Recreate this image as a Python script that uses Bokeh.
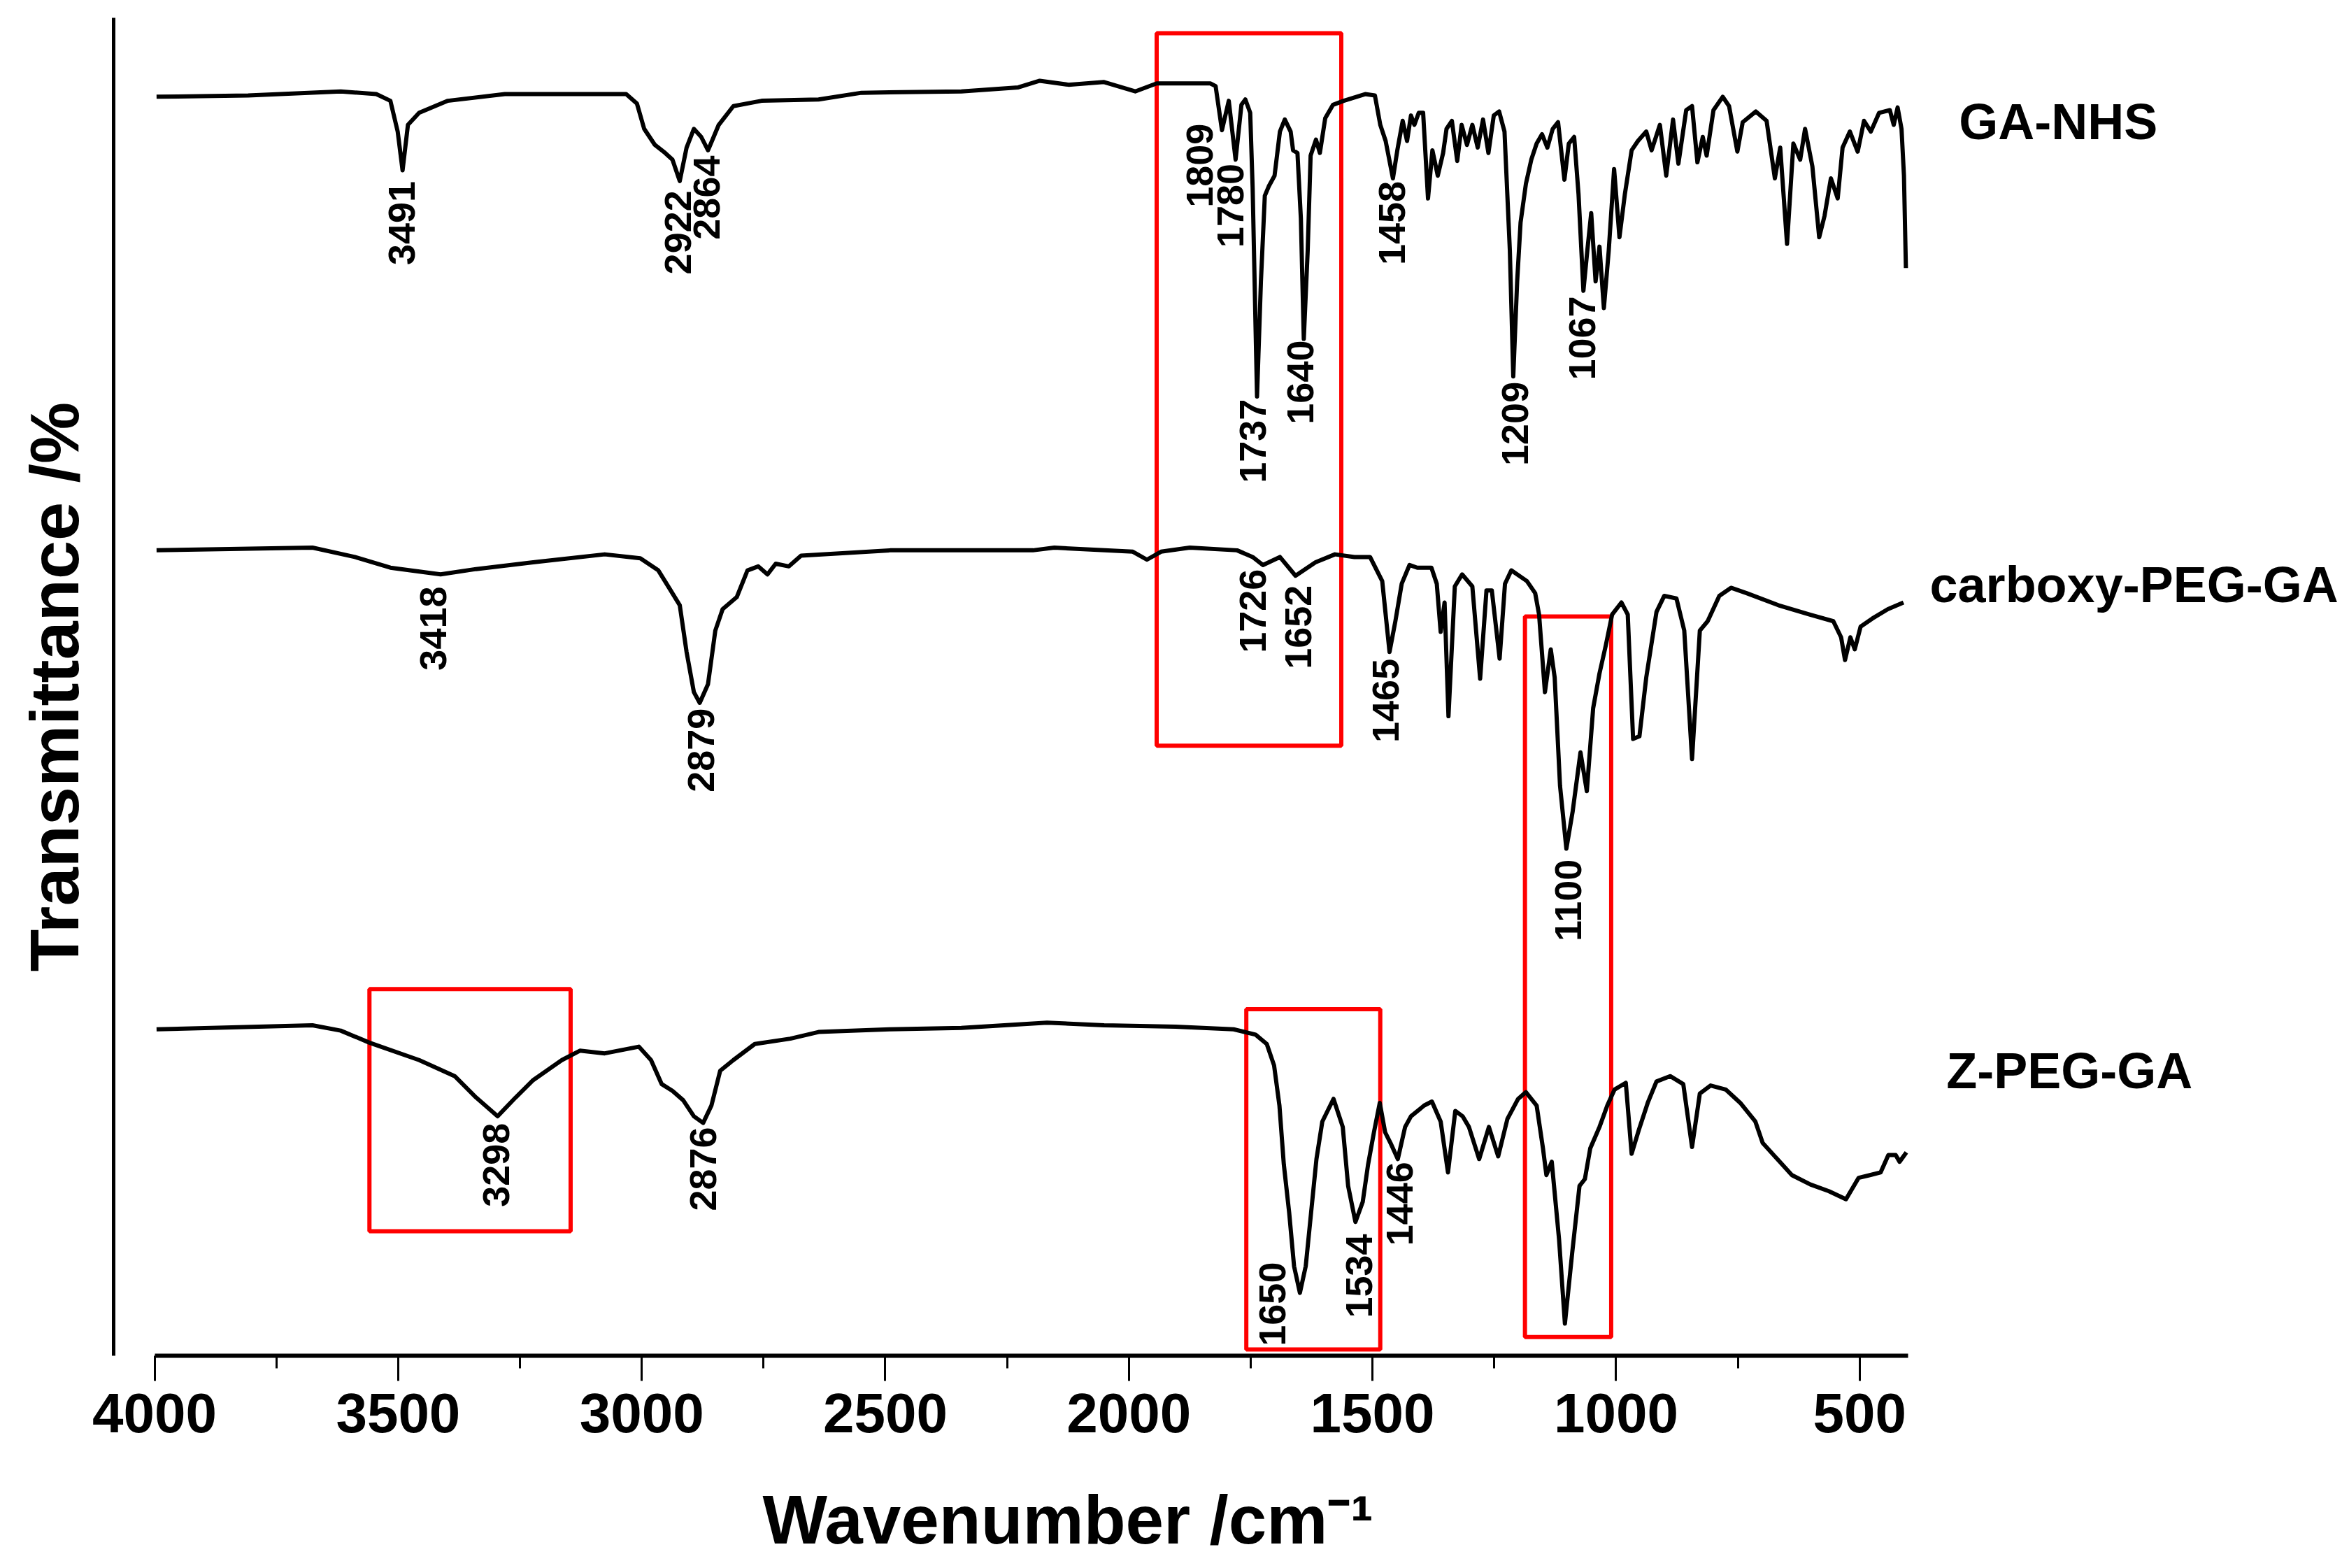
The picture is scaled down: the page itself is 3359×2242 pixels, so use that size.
import numpy as np
from bokeh.plotting import figure
from bokeh.models import Range1d, FixedTicker, Title
from bokeh.core.properties import value
from bokeh.embed import file_html
from bokeh.resources import INLINE

# ---------------- data (wavenumber cm-1, offset transmittance a.u.) ----------------
ga_nhs_wn = [3996, 3808, 3618, 3545, 3516, 3501, 3491, 3480, 3457, 3398, 3281, 3076, 3032, 3010,
             2995, 2973, 2952, 2937, 2922, 2908, 2893, 2878, 2864, 2842, 2812, 2754, 2637, 2549,
             2344, 2227, 2183, 2124, 2051, 1987, 1943, 1833, 1822, 1809, 1795, 1781, 1769, 1761,
             1751, 1746, 1737, 1729, 1721, 1713, 1701, 1690, 1680, 1668, 1663, 1654, 1647, 1641,
             1633, 1627, 1616, 1608, 1597, 1581, 1559, 1515, 1495, 1484, 1473, 1458, 1449, 1438,
             1429, 1421, 1414, 1405, 1396, 1386, 1377, 1366, 1355, 1348, 1337, 1326, 1317, 1306,
             1295, 1284, 1273, 1262, 1251, 1240, 1229, 1218, 1211, 1203, 1196, 1185, 1174, 1163,
             1152, 1141, 1130, 1119, 1106, 1097, 1086, 1077, 1067, 1059, 1051, 1042, 1034, 1025,
             1015, 1004, 993, 982, 968, 955, 938, 927, 910, 897, 883, 872, 856, 844, 833, 822,
             814, 800, 781, 768, 751, 740, 713, 691, 674, 663, 649, 636, 622, 612, 597, 583, 572,
             559, 545, 535, 520, 504, 491, 477, 460, 438, 430, 422, 414, 409, 405]
ga_nhs_t = [94.1, 94.2, 94.5, 94.3, 93.8, 91.5, 88.6, 92.0, 92.9, 93.8, 94.3, 94.3, 94.3, 93.6,
            91.7, 90.5, 89.9, 89.4, 87.8, 90.3, 91.7, 91.1, 90.1, 92.0, 93.4, 93.8, 93.9, 94.4,
            94.5, 94.8, 95.3, 95.0, 95.2, 94.5, 95.1, 95.1, 94.9, 91.6, 93.8, 89.4, 93.5, 93.9,
            92.9, 87.3, 71.7, 80.3, 86.7, 87.4, 88.2, 91.5, 92.4, 91.5, 90.1, 89.9, 85.0, 76.0,
            82.6, 89.7, 90.9, 89.9, 92.5, 93.5, 93.8, 94.3, 94.2, 92.0, 90.8, 88.0, 90.1, 92.3,
            90.8, 92.7, 92.0, 92.9, 92.9, 86.5, 90.1, 88.2, 89.9, 91.7, 92.3, 89.3, 92.0, 90.5,
            92.0, 90.3, 92.4, 89.9, 92.7, 93.0, 91.5, 82.6, 73.2, 80.3, 84.7, 87.6, 89.4, 90.6,
            91.3, 90.3, 91.7, 92.2, 87.9, 90.6, 91.1, 86.8, 79.6, 82.6, 85.4, 80.3, 82.9, 78.3,
            82.6, 88.7, 83.6, 86.8, 90.1, 90.8, 91.5, 90.1, 92.0, 88.2, 92.4, 89.1, 93.1, 93.4,
            89.2, 91.1, 89.7, 93.1, 94.1, 93.4, 90.0, 92.2, 93.0, 92.3, 88.0, 90.3, 83.1, 90.6,
            89.4, 91.7, 88.9, 83.6, 85.2, 88.0, 86.5, 90.3, 91.5, 90.0, 92.3, 91.5, 92.9, 93.1,
            92.0, 93.3, 91.7, 88.2, 81.3]

carboxy_wn = [3996, 3676, 3589, 3516, 3413, 3340, 3223, 3076, 3003, 2966, 2944, 2922, 2908, 2893,
              2881, 2864, 2849, 2834, 2805, 2783, 2761, 2742, 2725, 2698, 2673, 2490, 2197, 2153,
              1992, 1963, 1934, 1875, 1778, 1746, 1725, 1690, 1658, 1617, 1577, 1537, 1505, 1480,
              1465, 1453, 1440, 1424, 1408, 1379, 1368, 1360, 1352, 1344, 1331, 1316, 1295, 1279,
              1266, 1255, 1239, 1228, 1215, 1183, 1166, 1158, 1146, 1134, 1126, 1115, 1102, 1089,
              1073, 1060, 1047, 1034, 1021, 1008, 989, 976, 965, 952, 938, 917, 901, 876, 860,
              844, 828, 812, 788, 764, 732, 667, 603, 554, 538, 530, 519, 510, 498, 474, 442, 410]
carboxy_t = [60.2, 60.4, 59.7, 58.9, 58.4, 58.8, 59.3, 59.9, 59.6, 58.7, 57.4, 56.1, 52.6, 49.6,
             48.8, 50.2, 54.2, 55.8, 56.7, 58.7, 59.0, 58.4, 59.2, 59.0, 59.8, 60.2, 60.2, 60.4,
             60.1, 59.5, 60.1, 60.4, 60.2, 59.7, 59.1, 59.7, 58.3, 59.3, 59.9, 59.7, 59.7, 57.9,
             52.6, 54.9, 57.7, 59.1, 58.9, 58.9, 57.7, 54.1, 56.3, 47.8, 57.5, 58.4, 57.5, 50.6,
             57.2, 57.2, 52.1, 57.7, 58.7, 57.9, 57.0, 55.4, 49.6, 52.8, 50.7, 42.6, 37.9, 40.7,
             45.1, 42.2, 48.4, 51.0, 53.1, 55.4, 56.3, 55.4, 46.1, 46.3, 50.7, 55.6, 56.8, 56.6,
             54.2, 44.6, 54.2, 54.9, 56.8, 57.4, 57.0, 56.1, 55.4, 54.9, 53.7, 52.0, 53.7, 52.8,
             54.5, 55.1, 55.8, 56.3]

zpeg_wn = [3996, 3676, 3618, 3559, 3457, 3384, 3340, 3296, 3259, 3223, 3164, 3127, 3076, 3006,
           2981, 2959, 2937, 2915, 2893, 2874, 2857, 2839, 2812, 2768, 2695, 2637, 2490, 2344,
           2168, 2051, 1904, 1785, 1740, 1717, 1702, 1691, 1682, 1671, 1661, 1649, 1637, 1626,
           1615, 1603, 1580, 1561, 1550, 1535, 1520, 1509, 1497, 1485, 1474, 1463, 1448, 1433,
           1421, 1394, 1378, 1360, 1345, 1330, 1315, 1302, 1281, 1261, 1242, 1223, 1201, 1185,
           1163, 1150, 1143, 1132, 1117, 1105, 1090, 1075, 1064, 1053, 1034, 1018, 1003, 980,
           968, 953, 935, 917, 889, 862, 844, 828, 806, 775, 745, 714, 699, 669, 639, 601, 563,
           528, 502, 479, 457, 441, 426, 418, 404]
zpeg_t = [24.4, 24.7, 24.3, 23.4, 22.1, 20.9, 19.3, 17.9, 19.3, 20.6, 22.1, 22.8, 22.6, 23.1,
          22.1, 20.3, 19.8, 19.1, 17.9, 17.4, 18.7, 21.3, 22.1, 23.3, 23.7, 24.2, 24.4, 24.5,
          24.9, 24.7, 24.6, 24.4, 24.0, 23.3, 21.7, 18.7, 14.3, 10.7, 6.7, 4.7, 6.7, 10.7,
          14.7, 17.5, 19.2, 17.1, 12.7, 10.0, 11.5, 14.3, 16.7, 18.9, 16.7, 15.9, 14.7, 17.1,
          17.9, 18.7, 19.0, 17.5, 13.7, 18.3, 17.9, 17.1, 14.7, 17.1, 14.9, 17.7, 19.2, 19.7,
          18.7, 15.5, 13.5, 14.5, 8.7, 2.4, 7.7, 12.7, 13.2, 15.5, 17.1, 18.7, 19.9, 20.4,
          15.1, 16.9, 18.9, 20.5, 20.9, 20.3, 15.6, 19.6, 20.2, 19.9, 18.9, 17.5, 15.9, 14.7,
          13.5, 12.8, 12.3, 11.7, 13.3, 13.5, 13.7, 15.0, 15.0, 14.5, 15.2]

# peak annotations: text, x (wavenumber where the label is centred), y (top end of label)
peak_text = ["3491", "2922", "2864", "1809", "1780", "1737", "1640", "1458", "1209", "1067",
             "3418", "2879", "1726", "1652", "1465", "1100",
             "3298", "2876", "1650", "1534", "1446"]
peak_x = [3493, 2925, 2867, 1855, 1792, 1746, 1648, 1460, 1207, 1069,
          3428, 2878, 1746, 1652, 1473, 1098,
          3299, 2874, 1706, 1527, 1444]
peak_y = [87.8, 87.1, 89.7, 92.1, 89.1, 71.5, 75.9, 87.8, 72.8, 79.2,
          57.5, 48.4, 58.8, 57.6, 52.1, 37.1,
          17.4, 17.1, 7.0, 9.1, 14.5]

# sample names (x = left edge, y = vertical middle of the capitals)
names = ["GA-NHS", "carboxy-PEG-GA", "Z-PEG-GA"]
names_x = [296, 356, 322]
names_y = [92.24, 57.61, 21.28]

# highlighted regions (red frames)
box_left = [1943, 1187, 1759, 3559]
box_right = [1564, 1010, 1484, 3146]
box_bottom = [45.6, 1.4, 0.47, 9.3]
box_top = [98.85, 55.25, 25.9, 27.4]

x_major_ticks = [4000, 3500, 3000, 2500, 2000, 1500, 1000, 500]
x_minor_ticks = [3750, 3250, 2750, 2250, 1750, 1250, 750]

FONT = "Liberation Sans"

# ---------------- figure ----------------
p = figure(width=3351, height=2240, output_backend="svg", toolbar_location=None,
           x_range=Range1d(4084.1, -493.8), y_range=Range1d(0, 100),
           min_border_left=162, min_border_right=0, min_border_top=25, min_border_bottom=302)
p.outline_line_color = None
p.grid.visible = False
p.background_fill_color = "white"
p.border_fill_color = "white"

xa = p.xaxis[0]
xa.bounds = (400, 4000)
xa.ticker = FixedTicker(ticks=x_major_ticks, minor_ticks=x_minor_ticks)
xa.axis_line_width = 6
xa.axis_line_color = "black"
xa.major_tick_line_width = 3
xa.minor_tick_line_width = 3
xa.major_tick_in = 0
xa.major_tick_out = 36
xa.minor_tick_in = 0
xa.minor_tick_out = 18
xa.major_label_text_font = FONT
xa.major_label_text_font_style = "bold"
xa.major_label_text_font_size = "80px"
xa.major_label_text_color = "black"
xa.major_label_standoff = 18
# invisible spacer label: pushes the title panel further below the tick labels
xa.axis_label = "\u00a0"
xa.axis_label_text_font = FONT
xa.axis_label_text_font_style = "normal"
xa.axis_label_text_font_size = "10px"
xa.axis_label_standoff = 51

ya = p.yaxis[0]
ya.axis_line_width = 5
ya.axis_line_color = "black"
ya.major_tick_line_color = None
ya.minor_tick_line_color = None
ya.major_tick_out = 0
ya.major_tick_in = 0
ya.minor_tick_out = 0
ya.minor_tick_in = 0
ya.major_label_text_font_size = "1px"
ya.major_label_text_alpha = 0
ya.major_label_standoff = 0
ya.axis_label = "Transmittance /%"
ya.axis_label_text_font = FONT
ya.axis_label_text_font_style = "bold"
ya.axis_label_text_font_size = "99px"
ya.axis_label_text_color = "black"
ya.axis_label_standoff = 30

# x-axis title as a title panel below the axis, left-aligned with an offset
xt = Title(text="Wavenumber /cm\u207b\u00b9", align="left", offset=928, standoff=0,
           text_font=FONT, text_font_style="bold", text_font_size="98px", text_color="black")
p.add_layout(xt, "below")

p.quad(left=box_left, right=box_right, bottom=box_bottom, top=box_top,
       fill_alpha=0, line_color="#ff0000", line_width=6)

for wn, t in [(ga_nhs_wn, ga_nhs_t), (carboxy_wn, carboxy_t), (zpeg_wn, zpeg_t)]:
    p.line(wn, t, line_color="black", line_width=6, line_join="round")

p.text(x=peak_x, y=peak_y, text=peak_text, angle=np.pi / 2,
       text_align="right", text_baseline="middle",
       text_font=value(FONT), text_font_style="bold",
       text_font_size=value("54px"), text_color="black")

p.text(x=names_x, y=names_y, text=names, text_align="left", text_baseline="middle",
       text_font=value(FONT), text_font_style="bold",
       text_font_size=value("72px"), text_color="black")

open("out.html", "w").write(file_html(p, INLINE))
